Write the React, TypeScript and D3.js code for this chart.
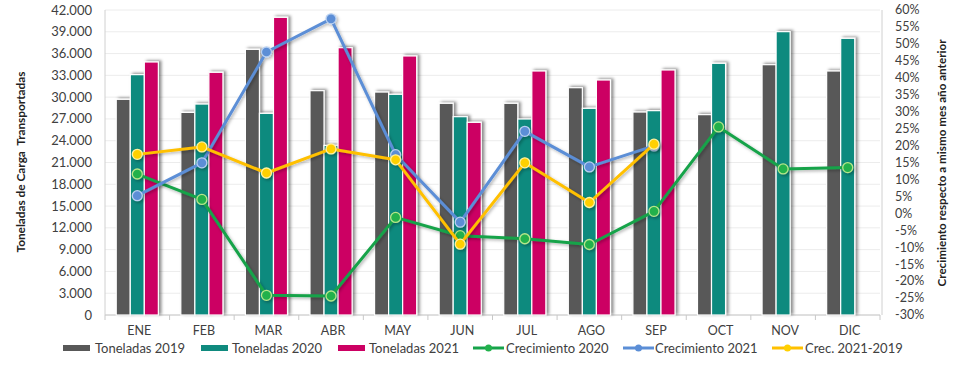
import React from "react";
import * as d3 from "d3";

const months = ["ENE", "FEB", "MAR", "ABR", "MAY", "JUN", "JUL", "AGO", "SEP", "OCT", "NOV", "DIC"];
const ton2019 = [29700, 27900, 36580, 30890, 30700, 29150, 29150, 31300, 27950, 27590, 34470, 33600];
const ton2020 = [33100, 29050, 27770, 23350, 30390, 27310, 26990, 28460, 28140, 34660, 39020, 38100];
const ton2021: (number | null)[] = [34840, 33420, 40990, 36810, 35670, 26530, 33600, 32360, 33740, null, null, null];
const crec2020 = [11.6, 4.1, -24.2, -24.4, -1.2, -6.6, -7.5, -9.2, 0.6, 25.5, 13.1, 13.5];
const crec2021: (number | null)[] = [5.2, 14.9, 47.6, 57.4, 17.3, -2.6, 24.2, 13.7, 19.9, null, null, null];
const crec2119: (number | null)[] = [17.4, 19.6, 11.9, 19.0, 15.8, -9.1, 14.9, 3.2, 20.4, null, null, null];
const leftTicks = d3.range(0, 42001, 3000);
const rightTicks = d3.range(-30, 61, 5);

const W = 960, H = 372;
const L = 105, R = 880, T = 10, B = 315;
const FONT = "Lato, 'Open Sans', sans-serif";

const barSeries = [
  { key: "Toneladas 2019", data: ton2019 as (number | null)[], color: "#585858" },
  { key: "Toneladas 2020", data: ton2020 as (number | null)[], color: "#0f8a7e" },
  { key: "Toneladas 2021", data: ton2021, color: "#cc0063" },
];
const lineSeries = [
  { key: "Crecimiento 2020", data: crec2020 as (number | null)[], color: "#16a34a", mark: "#22b14c", stroke: "#b6e68a" },
  { key: "Crecimiento 2021", data: crec2021, color: "#5b8ed6", mark: "#5b8ed6", stroke: "#b9d0f0" },
  { key: "Crec. 2021-2019", data: crec2119, color: "#ffc000", mark: "#ffd000", stroke: "#fff2a0" },
];

const fmt = d3.formatLocale({ decimal: ",", thousands: ".", grouping: [3], currency: ["", ""] }).format(",");

export default function App() {
  const x = d3.scaleBand<string>().domain(months).range([L, R]).paddingInner(0).paddingOuter(0);
  const xs = d3.scaleBand<string>().domain(barSeries.map((s) => s.key)).range([0, x.bandwidth()]).paddingInner(0).paddingOuter(0.8);
  const yL = d3.scaleLinear().domain([0, 42000]).range([B, T]);
  const yR = d3.scaleLinear().domain([-30, 60]).range([B, T]);
  const cx = (m: string) => (x(m) as number) + x.bandwidth() / 2;

  const legendItems = [
    { type: "bar", ...barSeries[0], sx: 63, tx: 95 },
    { type: "bar", ...barSeries[1], sx: 201, tx: 232 },
    { type: "bar", ...barSeries[2], sx: 338, tx: 369 },
    { type: "line", ...lineSeries[0], sx: 473, tx: 506 },
    { type: "line", ...lineSeries[1], sx: 623, tx: 655 },
    { type: "line", ...lineSeries[2], sx: 772, tx: 805 },
  ] as any[];

  return (
    <svg width={W} height={H} style={{ position: "absolute", left: 0, top: 0, background: "#fff" }} fontFamily={FONT}>
      <defs>
        <filter id="sh" x="-50%" y="-10%" width="200%" height="120%">
          <feDropShadow dx="2.5" dy="-1" stdDeviation="1.8" floodColor="#000" floodOpacity="0.45" />
        </filter>
        <filter id="shl" x="-10%" y="-10%" width="120%" height="120%">
          <feDropShadow dx="1.5" dy="1.5" stdDeviation="1.5" floodColor="#000" floodOpacity="0.3" />
        </filter>
      </defs>
      {leftTicks.map((t) => (
        <line key={t} x1={L} x2={R} y1={yL(t)} y2={yL(t)} stroke="#ececec" strokeWidth={1} />
      ))}
      <line x1={L} x2={L} y1={T} y2={B} stroke="#d0d0d0" />
      <line x1={R + 2} x2={R + 2} y1={T} y2={B} stroke="#d0d0d0" />
      <line x1={L} x2={R} y1={B} y2={B} stroke="#c8c8c8" />
      {months.map((m) => (
        <line key={m} x1={x(m) as number} x2={x(m) as number} y1={B} y2={B + 5} stroke="#c8c8c8" />
      ))}
      <line x1={R} x2={R} y1={B} y2={B + 5} stroke="#c8c8c8" />
      {barSeries.map((s) =>
        s.data.map((v, i) =>
          v == null ? null : (
            <rect
              key={s.key + i}
              x={(x(months[i]) as number) + (xs(s.key) as number)}
              y={yL(v)}
              width={xs.bandwidth()}
              height={B - yL(v)}
              fill={s.color}
              stroke="#fff"
              strokeWidth={1.2}
              filter="url(#sh)"
            />
          )
        )
      )}
      {lineSeries.map((s) => {
        const pts = s.data.map((v, i) => (v == null ? null : [cx(months[i]), yR(v)])).filter(Boolean) as [number, number][];
        const path = d3.line()(pts) as string;
        return (
          <g key={s.key} filter="url(#shl)">
            <path d={path} fill="none" stroke={s.color} strokeWidth={3} strokeLinejoin="round" />
            {pts.map((p, i) => (
              <circle key={i} cx={p[0]} cy={p[1]} r={5} fill={s.mark} stroke={s.stroke} strokeWidth={1.3} />
            ))}
          </g>
        );
      })}
      {leftTicks.map((t) => (
        <text key={t} x={92} y={yL(t)} dy="0.35em" textAnchor="end" fontSize={13} fill="#404040">
          {fmt(t)}
        </text>
      ))}
      {rightTicks.map((t) => (
        <text key={t} x={895} y={yR(t)} dy="0.35em" textAnchor="start" fontSize={12.5} fill="#404040">
          {t + "%"}
        </text>
      ))}
      {months.map((m) => (
        <text key={m} x={cx(m) + 2} y={331} dy="0.35em" textAnchor="middle" fontSize={12.5} fill="#404040">
          {m}
        </text>
      ))}
      <text transform="translate(21,162) rotate(-90)" dy="0.35em" textAnchor="middle" fontSize={12} fontWeight="bold" fill="#222"
        textLength={181} lengthAdjust="spacingAndGlyphs" style={{ whiteSpace: "pre" }}>
        {"Toneladas de Carga  Transportadas"}
      </text>
      <text transform="translate(942,163) rotate(-90)" dy="0.35em" textAnchor="middle" fontSize={12} fontWeight="bold" fill="#222"
        textLength={247} lengthAdjust="spacingAndGlyphs">
        Crecimiento respecto a mismo mes año anterior
      </text>
      {legendItems.map((it) => (
        <g key={it.key}>
          {it.type === "bar" ? (
            <rect x={it.sx} y={345} width={27} height={6} fill={it.color} />
          ) : (
            <g>
              <line x1={it.sx} x2={it.sx + 31} y1={348} y2={348} stroke={it.color} strokeWidth={3} />
              <circle cx={it.sx + 15.5} cy={348} r={3.5} fill={it.mark} />
            </g>
          )}
          <text x={it.tx} y={348} dy="0.35em" fontSize={13} fill="#404040">
            {it.key}
          </text>
        </g>
      ))}
    </svg>
  );
}
